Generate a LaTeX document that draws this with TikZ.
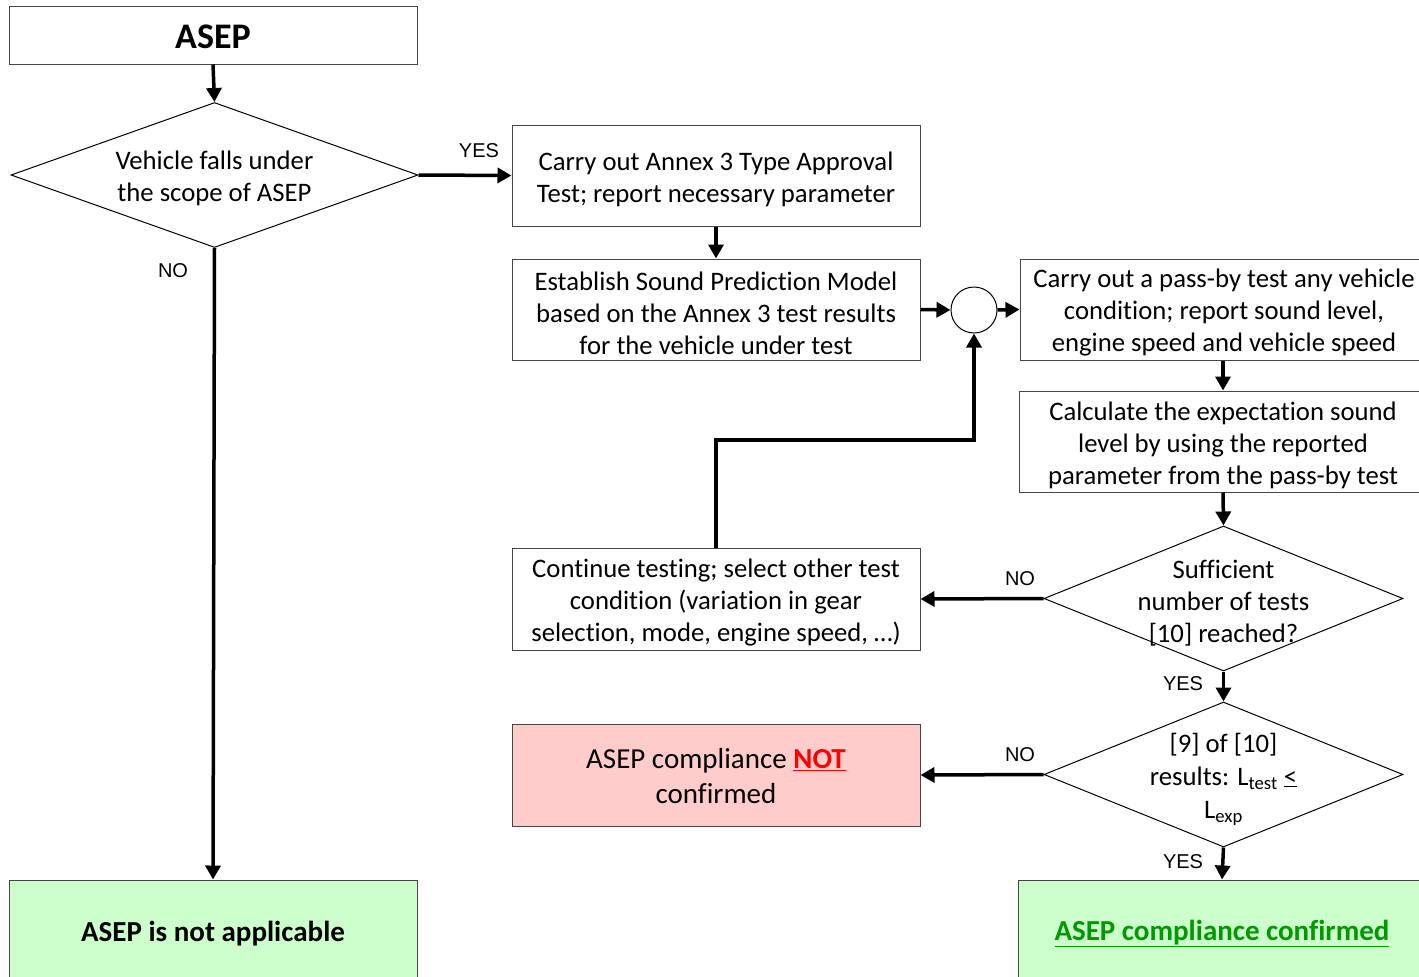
\documentclass[tikz,border=0pt]{standalone}
\usepackage{fontspec}
\setmainfont{Carlito}[Ligatures=NoCommon]
\newfontfamily\arialfont{Liberation Sans}
\usetikzlibrary{arrows.meta,shapes.geometric}
\definecolor{boxgray}{RGB}{70,70,70}
\definecolor{pinkfill}{RGB}{255,204,204}
\definecolor{greenfill}{RGB}{204,255,204}
\definecolor{greentext}{RGB}{0,153,0}
\newcommand\tsh{\rule{0pt}{25.5pt}}
\tikzset{
  box/.style={draw=boxgray, line width=1pt, rectangle, minimum width=408pt, minimum height=101pt, inner sep=0pt, align=center, font=\fontsize{26.7}{32}\selectfont},
  dia/.style={draw=black, line width=1pt, diamond, inner sep=0pt, minimum width=#1, minimum height=145pt},
  dtext/.style={align=center, inner sep=0pt, font=\fontsize{26.7}{32}\selectfont},
  lbl/.style={inner sep=0pt, font=\arialfont\fontsize{20}{24}\selectfont},
  arr/.style={line width=3.5pt, -{Triangle[width=15pt,length=14pt]}},
}
\begin{document}
\begin{tikzpicture}[x=1pt,y=-1pt]
\useasboundingbox (0,0) rectangle (1419,977);
\begin{scope}
\clip (0,0) rectangle (1419,977);
\node[box, minimum height=58pt, font=\fontsize{36}{40}\selectfont\bfseries] (asep) at (213,35) {\rule{0pt}{27pt}ASEP};
\node[dia=407pt] (d1) at (214.5,175) {};
\node[dtext] (d1t) at (214.5,178) {Vehicle falls under\\the scope of ASEP};
\node[box] (annex) at (716,175.5) {\tsh Carry out Annex 3 Type Approval\\Test; report necessary parameter};
\node[box] (model) at (716,309.5) {\tsh Establish Sound Prediction Model\\based on the Annex 3 test results\\for the vehicle under test};
\node[draw=black, line width=1pt, circle, minimum size=46pt, inner sep=0pt] (circ) at (974,310) {};
\node[box] (pass) at (1224,309.5) {\tsh Carry out a pass-by test any vehicle\\condition; report sound level,\\engine speed and vehicle speed};
\node[box] (calc) at (1223,441.5) {\tsh Calculate the expectation sound\\level by using the reported\\parameter from the pass-by test};
\node[dia=359pt] (d2) at (1223.5,598.5) {};
\node[dtext] (d2t) at (1223.5,603) {Sufficient\\number of tests\\{}[10] reached?};
\node[box, minimum height=102pt] (cont) at (716,599) {\tsh Continue testing; select other test\\condition (variation in gear\\selection, mode, engine speed, \dots)};
\node[dia=359pt] (d3) at (1223.5,774.5) {};
\node[dtext, font=\fontsize{26.7}{33}\selectfont] (d3t) at (1223.5,779) {[9] of [10]\\results: L\textsubscript{test} \underline{<}\\L\textsubscript{exp}};
\node[box, fill=pinkfill, minimum height=102pt, font=\fontsize{29}{35}\selectfont] (notc) at (716,775) {\rule{0pt}{22pt}ASEP compliance \textcolor{red}{\bfseries\underline{NOT}}\\confirmed};
\node[box, fill=greenfill, minimum height=102pt, font=\fontsize{29}{35}\selectfont\bfseries] (notapp) at (213,931) {\rule{0pt}{26pt}ASEP is not applicable};
\node[box, fill=greenfill, minimum height=102pt, font=\fontsize{29}{35}\selectfont\bfseries] (conf) at (1222,931) {\rule{0pt}{26pt}\textcolor{greentext}{\underline{ASEP compliance confirmed}}};
\end{scope}
\draw[arr] (asep.south) -- (d1.north);
\draw[arr] (d1.east) -- (annex.west);
\draw[arr] (annex.south) -- (model.north);
\draw[arr] (model.east) -- (circ.west);
\draw[arr] (circ.east) -- (pass.west);
\draw[arr] (calc.north |- pass.south) -- (calc.north);
\draw[arr] (calc.south) -- (d2.north);
\draw[arr] (d2.west) -- (cont.east);
\draw[arr] (d2.south) -- (d3.north);
\draw[arr] (d3.west) -- (notc.east);
\draw[arr] (d3.south) -- (conf.north);
\draw[arr] (d1.south) -- (notapp.north);
\draw[arr] (cont.north) -- (716,440) -| (circ.south);
\node[lbl] (l1) at (479,151) {YES};
\node[lbl] (l2) at (173,271) {NO};
\node[lbl] (l3) at (1020,579) {NO};
\node[lbl] (l4) at (1183,684) {YES};
\node[lbl] (l5) at (1020,755) {NO};
\node[lbl] (l6) at (1183,862) {YES};
\end{tikzpicture}
\end{document}
